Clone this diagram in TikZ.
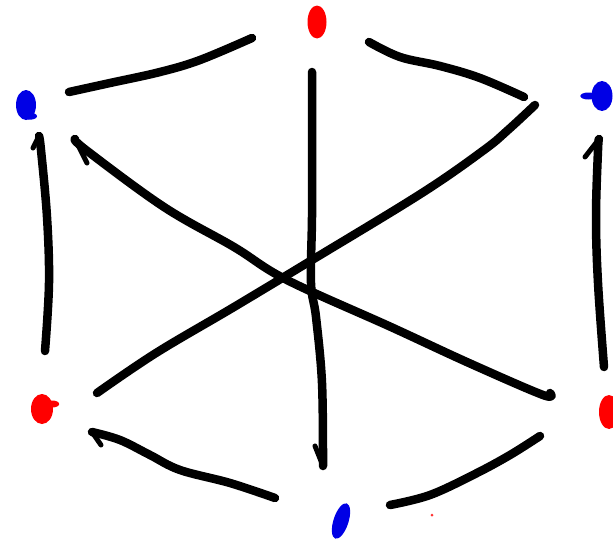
\documentclass[tikz,border=0pt]{standalone}
\usetikzlibrary{shapes.geometric}
\begin{document}
\begin{tikzpicture}[x=1pt,y=-1pt,
  stroke/.style={line width=8.5pt,line cap=round,line join=round,black},
  hook/.style={line width=5pt,line cap=round,black},
  dotR/.style={ellipse,fill=red,draw=none,inner sep=0pt},
  dotB/.style={ellipse,fill=blue!90!black,draw=none,inner sep=0pt}]
\useasboundingbox[fill=white] (0,0) rectangle (613,546);
% dots
\node[dotR,minimum width=19pt,minimum height=33pt] (top) at (317,22) {};
\node[dotB,minimum width=20pt,minimum height=30pt] (tl) at (26,105) {};
\node[dotB,minimum width=21pt,minimum height=30pt] (tr) at (602,96) {};
\node[dotR,minimum width=22pt,minimum height=30pt] (bl) at (42,409) {};
\node[dotR,minimum width=20pt,minimum height=34pt] (br) at (609,412) {};
\node[dotB,minimum width=15pt,minimum height=37pt,rotate=-18] (bot) at (341,521) {};
\node[fill=red!80,circle,inner sep=0pt,minimum size=3pt] (speck) at (432,515) {};
\fill[blue!90!black] (tr.west) ++(-3,0) ellipse (8pt and 3.5pt);
\fill[blue!90!black] (tl.south) ++(4,-4) ellipse (7pt and 3.5pt);
\fill[red] (bl.east) ++(-1,-5) ellipse (7pt and 3.5pt);
% top-left stroke
\draw[stroke] plot[smooth,tension=0.6] coordinates {(69,92) (110,83) (160,72) (200,60) (252,38)};
% top-right stroke
\draw[stroke] plot[smooth,tension=0.6] coordinates {(369,42) (400,57) (440,66) (480,78) (524,97)};
% center vertical with hook at bottom
\draw[stroke] plot[smooth,tension=0.6] coordinates {(312,72) (312,150) (312,217) (311,283) (316,317) (322,383) (323,466)};
\draw[hook] (323,466) -- (315,446);
% TR-BL diagonal
\draw[stroke] plot[smooth,tension=0.6] coordinates {(535,105) (508,130) (484,150) (422,193) (312,260) (234,307) (156,353) (97,393)};
% TL-BR diagonal with hook at top-left
\draw[stroke] plot[smooth,tension=0.6] coordinates {(75,139) (86,150) (164,207) (234,247) (287,280) (391,327) (469,363) (543,395) (550,393)};
\draw[hook] (75,139) -- (87,163);
% left vertical with hook
\draw[stroke] plot[smooth,tension=0.6] coordinates {(39,136) (41,150) (47,217) (49,283) (45,351)};
\draw[hook] (39,136) -- (33,148);
% right vertical with hook
\draw[stroke] plot[smooth,tension=0.6] coordinates {(599,139) (598,150) (596,217) (598,283) (604,367)};
\draw[hook] (599,139) -- (585,157);
% bottom-left stroke with hook
\draw[stroke] plot[smooth,tension=0.6] coordinates {(275,498) (230,483) (180,470) (150,455) (120,440) (92,432)};
\draw[hook] (92,432) -- (101,445);
% bottom-right stroke
\draw[stroke] plot[smooth,tension=0.6] coordinates {(390,505) (430,495) (475,474) (510,455) (540,436)};
\end{tikzpicture}
\end{document}
